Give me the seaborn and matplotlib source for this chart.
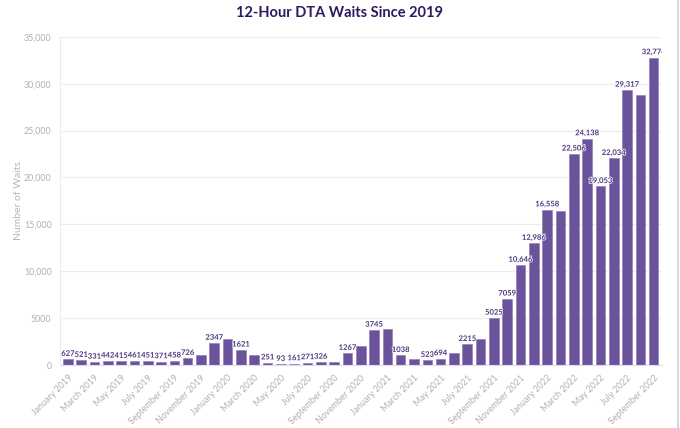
import matplotlib
matplotlib.use("Agg")
import matplotlib.pyplot as plt
import matplotlib.patheffects as pe
from matplotlib.ticker import FuncFormatter, MultipleLocator
from matplotlib.lines import Line2D
import seaborn as sns
import pandas as pd

months = ["January", "February", "March", "April", "May", "June", "July",
          "August", "September", "October", "November", "December"]
categories = [f"{m} {y}" for y in (2019, 2020, 2021, 2022) for m in months][:45]

waits = [627, 521, 331, 442, 415, 461, 451, 371, 458, 726, 1110, 2347,
         2800, 1621, 1120, 251, 93, 161, 271, 326, 350, 1267, 2060, 3745,
         3800, 1038, 620, 523, 694, 1250, 2215, 2750, 5025, 7059, 10646, 12986,
         16558, 16400, 22506, 24138, 19053, 22034, 29317, 28750, 32774]

# which bars carry a data label (others hidden by overlap in the original)
shown = [1, 1, 1, 1, 1, 1, 1, 1, 1, 1, 0, 1,
         0, 1, 0, 1, 1, 1, 1, 1, 0, 1, 0, 1,
         0, 1, 0, 1, 1, 0, 1, 0, 1, 1, 1, 1,
         1, 0, 1, 1, 1, 1, 1, 0, 1]

tick_labels = [c if i % 2 == 0 else "" for i, c in enumerate(categories)]

title = "12-Hour DTA Waits Since 2019"
ylabel = "Number of Waits"

sns.set_theme(style="white")
plt.rcParams["font.family"] = ["Lato", "DejaVu Sans"]

df = pd.DataFrame({"month": categories, "waits": waits})

fig = plt.figure(figsize=(6.8, 4.28), dpi=100)
ax = fig.add_axes([0.088, 0.147, 0.885, 0.767])

bar_color = "#6b539b"
sns.barplot(data=df, x="month", y="waits", color=bar_color, width=0.72,
            saturation=1, ax=ax, edgecolor="#8a76b5", linewidth=0.4)

ax.set_ylim(0, 35000)
ax.set_xlim(-0.6, len(categories) - 0.4)
ax.yaxis.set_major_locator(MultipleLocator(5000))


def fmt(v, _=None):
    v = int(round(v))
    return f"{v:,}" if v >= 10000 else f"{v}"


ax.yaxis.set_major_formatter(FuncFormatter(fmt))
ax.grid(axis="y", color="#ececec", linewidth=0.8)
ax.set_axisbelow(True)

for s in ["top", "right"]:
    ax.spines[s].set_visible(False)
ax.spines["left"].set_color("#ececec")
ax.spines["left"].set_linewidth(0.8)
ax.spines["bottom"].set_color("#dcdcf0")
ax.spines["bottom"].set_linewidth(0.8)

ax.set_xticks(range(len(categories)))
ax.set_xticklabels(tick_labels, rotation=45, ha="right", rotation_mode="anchor",
                   fontsize=6.4, color="#b0b0b0")
ax.tick_params(axis="x", length=3, color="#dcdcf0", width=0.6, pad=3)
ax.tick_params(axis="y", length=3, color="#ececec", width=0.6, labelsize=6.4,
               labelcolor="#b0b0b0", pad=3)
ax.set_xlabel("")
ax.set_ylabel(ylabel, fontsize=7.5, color="#b8b8b8", labelpad=3)
ax.yaxis.set_label_coords(-0.062, 0.5)

for i, (v, s) in enumerate(zip(waits, shown)):
    if s:
        t = ax.text(i, v + 250, fmt(v), ha="center", va="bottom", fontsize=5.5,
                    fontweight="bold", color="#4a3a80", clip_on=True)
        t.set_path_effects([pe.withStroke(linewidth=1.0, foreground="white")])

fig.suptitle(title, x=0.5, y=0.985, fontsize=10.5, fontweight="bold",
             color="#2f1a60")

fig.add_artist(Line2D([0.997, 0.997], [0, 1], transform=fig.transFigure,
                      color="#cfcfcf", linewidth=1.2))

fig.savefig("out.png", dpi=100)
